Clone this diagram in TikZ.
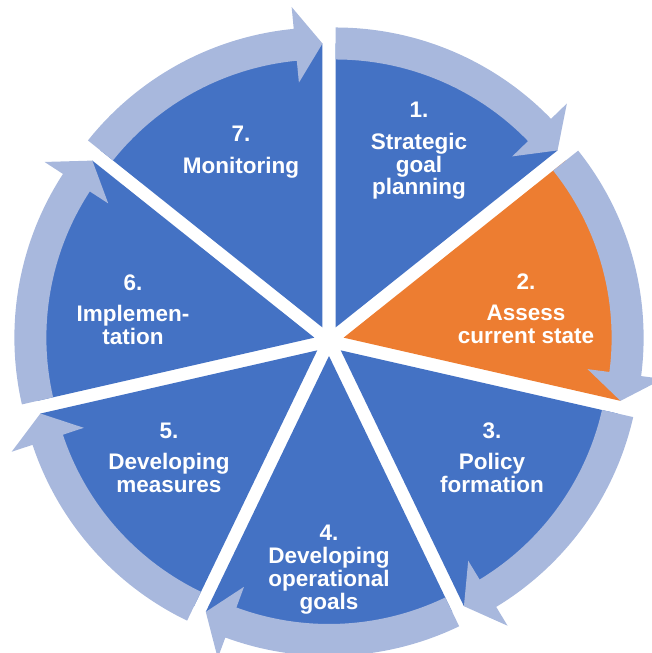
\documentclass[tikz,border=0pt]{standalone}
\usepackage{fontspec}
\setmainfont{Liberation Sans}
\definecolor{segblue}{RGB}{68,114,196}
\definecolor{segorange}{RGB}{237,125,49}
\definecolor{ringblue}{RGB}{168,184,221}
\tikzset{
  seglabel/.style={text=white,align=center,font=\fontsize{16}{16.3}\selectfont\bfseries},
}
\begin{document}
\begin{tikzpicture}[x=0.025cm,y=0.025cm]
\useasboundingbox (-329,-312) rectangle (323,341);
% seven pieces, each one pushed out a bit along its middle angle
\foreach \i/\col in {1/segblue,2/segorange,3/segblue,4/segblue,5/segblue,6/segblue,7/segblue}{
  \pgfmathsetmacro\sa{90-(\i-1)*360/7}
  \pgfmathsetmacro\ea{\sa-360/7}
  \pgfmathsetmacro\ma{\sa-180/7}
  \pgfmathsetmacro\ha{\ea+5.5} % back of the arrow head
  \begin{scope}[shift={(\ma:15)}]
    \fill[\col] (0,0) -- (\sa:284) arc[start angle=\sa,end angle=\ea,radius=284] -- cycle;
    \fill[ringblue] (\sa:268) arc[start angle=\sa,end angle=\ha,radius=268]
      -- (\ha:246) -- (\ea:284) -- (\ha:322) -- (\ha:300)
      arc[start angle=\ha,end angle=\sa,radius=300] -- cycle;
  \end{scope}
}
% labels
\node[seglabel] (s1) at (90,190) {1.\\[6pt]Strategic\\goal\\planning};
\node[seglabel] (s2) at (197,32) {2.\\[6pt]Assess\\current state};
\node[seglabel] (s3) at (163,-117) {3.\\[6pt]Policy\\formation};
\node[seglabel] (s4) at (0,-229) {4.\\Developing\\operational\\goals};
\node[seglabel] (s5) at (-160,-117) {5.\\[6pt]Developing\\measures};
\node[seglabel] (s6) at (-196,31) {6.\\[6pt]Implemen-\\tation};
\node[seglabel] (s7) at (-88,189) {7.\\[6pt]Monitoring};
\end{tikzpicture}
\end{document}
